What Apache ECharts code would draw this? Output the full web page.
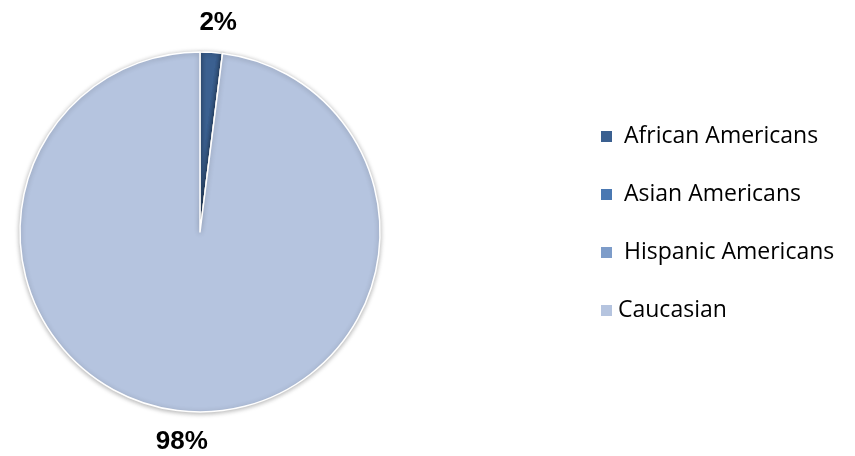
<!DOCTYPE html>
<html>
<head>
<meta charset="utf-8">
<script src="https://cdn.jsdelivr.net/npm/echarts@6/dist/echarts.min.js"></script>
<style>
  html, body { margin: 0; padding: 0; background: #fff; }
  #chart { width: 855px; height: 456px; }
</style>
</head>
<body>
<div id="chart"></div>
<script>
// 数据
var categories = ['African Americans', 'Asian Americans', 'Hispanic Americans', 'Caucasian'];
var values = [2, 0, 0, 98];
var colors = ['#3b6090', '#4a78b2', '#7d9cc9', '#b5c4df'];

var myChart = echarts.init(document.getElementById('chart'));

var pieData = [];
for (var i = 0; i < categories.length; i++) {
  pieData.push({ name: categories[i], value: values[i], itemStyle: { color: colors[i] } });
}

myChart.setOption({
  animation: false,
  legend: {
    orient: 'vertical',
    left: 594,
    top: 120,
    itemGap: 35,
    itemWidth: 13,
    itemHeight: 13,
    icon: 'rect',
    data: categories,
    formatter: function (name) {
      // 原图中前三项文字前有空格
      return name === 'Caucasian' ? name : ' ' + name;
    },
    textStyle: {
      fontFamily: 'Open Sans',
      fontSize: 23,
      color: '#000'
    }
  },
  series: [
    {
      type: 'pie',
      center: [200, 232],
      radius: 180,
      startAngle: 90,
      clockwise: true,
      data: pieData,
      itemStyle: {
        borderColor: '#fff',
        borderWidth: 1.5,
        shadowBlur: 5,
        shadowColor: 'rgba(0,0,0,0.3)',
        shadowOffsetY: 1
      },
      label: {
        show: true,
        position: 'outside',
        formatter: function (p) {
          return p.value ? p.percent + '%' : '';
        },
        fontFamily: 'Liberation Sans',
        fontWeight: 'bold',
        fontSize: 26,
        color: '#000'
      },
      labelLine: { show: false, length: 30, length2: 0 },
      labelLayout: { align: 'center', verticalAlign: 'middle' },
      emphasis: { disabled: true }
    }
  ]
});
</script>
</body>
</html>
